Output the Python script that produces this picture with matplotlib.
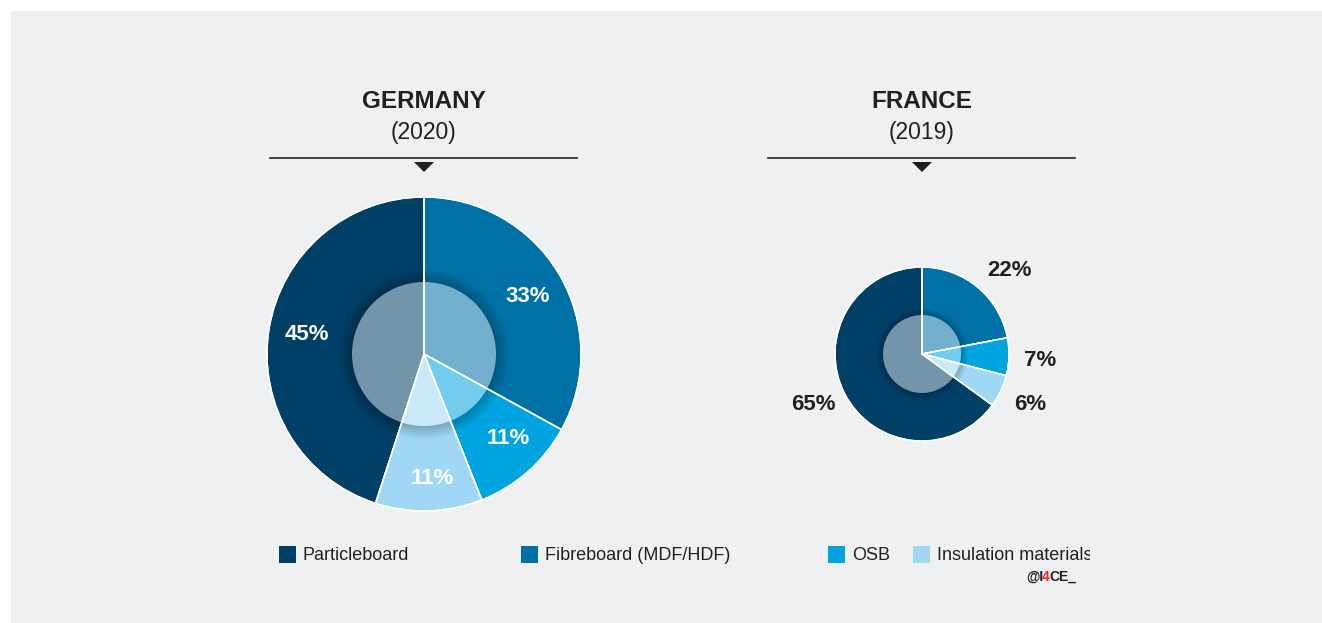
import matplotlib.pyplot as plt
from matplotlib.patches import Rectangle, Circle, Polygon, Wedge

plt.rcParams['font.family'] = ['Liberation Sans', 'DejaVu Sans']

# data
categories = ['Particleboard', 'Fibreboard (MDF/HDF)', 'OSB', 'Insulation materials']
colors = ['#003f66', '#0071a6', '#00a4e1', '#9fd7f4']
germany = [45, 33, 11, 11]
france = [65, 22, 7, 6]
germany_labels = ['45%', '33%', '11%', '11%']
france_labels = ['65%', '22%', '7%', '6%']

W, H = 1322, 623
fig = plt.figure(figsize=(W / 100, H / 100), dpi=100)
fig.patch.set_facecolor('white')
ax = fig.add_axes([0, 0, 1, 1])

ax.add_patch(Rectangle((11, 0), W - 11, H - 11, facecolor='#eff0f2', edgecolor='none', zorder=0))


def draw_pie(cx, cy, r, values, r_in):
    # order clockwise from top: fibreboard, osb, insulation, particleboard
    order = [1, 2, 3, 0]
    vals = [values[i] for i in order]
    cols = [colors[i] for i in order]
    wedges, _ = ax.pie(vals, colors=cols, startangle=90, counterclock=False,
                       center=(cx, cy), radius=r, frame=True,
                       wedgeprops=dict(edgecolor='white', linewidth=1.0))
    for w in wedges:
        w.set_zorder(2)
    # soft shadow ring just outside the inner disc
    n = 8
    step = r_in * 0.022
    for k in range(n):
        ax.add_patch(Wedge((cx, cy), r_in + (k + 1) * step, 0, 360, width=(k + 1) * step,
                           facecolor='black', alpha=0.028, edgecolor='none', zorder=3))
    ax.add_patch(Circle((cx, cy), r_in, facecolor='white', alpha=0.45,
                        edgecolor='none', zorder=4))
    # slice borders over the inner disc
    wedges2, _ = ax.pie(vals, colors=['none'] * 4, startangle=90, counterclock=False,
                        center=(cx, cy), radius=r, frame=True,
                        wedgeprops=dict(edgecolor='white', linewidth=1.0, fill=False))
    for w in wedges2:
        w.set_zorder(5)


draw_pie(424, 269, 157, germany, 72)
draw_pie(922, 269, 87, france, 39)

ax.set_xlim(0, W)
ax.set_ylim(0, H)
ax.set_aspect('equal')
ax.axis('off')

# labels
lab = dict(fontsize=16, fontweight='bold', ha='center', va='center', zorder=6)
g_pos = [(307, 335), (528, 296), (508, 438), (432, 478)]
for (x, y), t in zip(g_pos, germany_labels):
    ax.text(x, H - y, t, color='white', **lab)
f_pos = [(813, 405), (1010, 271), (1040, 360), (1030, 405)]
for (x, y), t in zip(f_pos, france_labels):
    ax.text(x, H - y, t, color='#231f20', **lab)

# headers
for cx, name, year in [(424, 'GERMANY', '(2020)'), (922, 'FRANCE', '(2019)')]:
    ax.text(cx, H - 102, name, fontsize=17.5, fontweight='bold', color='#231f20',
            ha='center', va='center')
    ax.text(cx, H - 132, year, fontsize=16.5, color='#231f20', ha='center', va='center')
    ax.plot([cx - 154, cx + 153], [H - 158, H - 158], color='#231f20', lw=1.2)
    ax.add_patch(Polygon([(cx - 10, H - 162), (cx + 10, H - 162), (cx, H - 172)],
                         closed=True, facecolor='#231f20', edgecolor='none'))

# legend
leg_x = [279, 521, 828, 913]
clip = Rectangle((0, 0), 1090, H, transform=ax.transData, visible=False)
ax.add_patch(clip)
for x, c, name in zip(leg_x, colors, categories):
    ax.add_patch(Rectangle((x, H - 563), 17, 17, facecolor=c, edgecolor='none'))
    t = ax.text(x + 24, H - 555, name, fontsize=13, color='#231f20',
                ha='left', va='center', clip_on=True)
    t.set_clip_path(clip)

# watermark
fig.canvas.draw()
r = fig.canvas.get_renderer()
x = 1026
for part, c in [('@I', '#231f20'), ('4', '#e32a2a'), ('CE_', '#231f20')]:
    t = ax.text(x, H - 577, part, fontsize=10, fontweight='bold', color=c,
                ha='left', va='center')
    bb = t.get_window_extent(renderer=r)
    x += bb.width - 1

fig.savefig('out.png', dpi=100, facecolor=fig.get_facecolor())
